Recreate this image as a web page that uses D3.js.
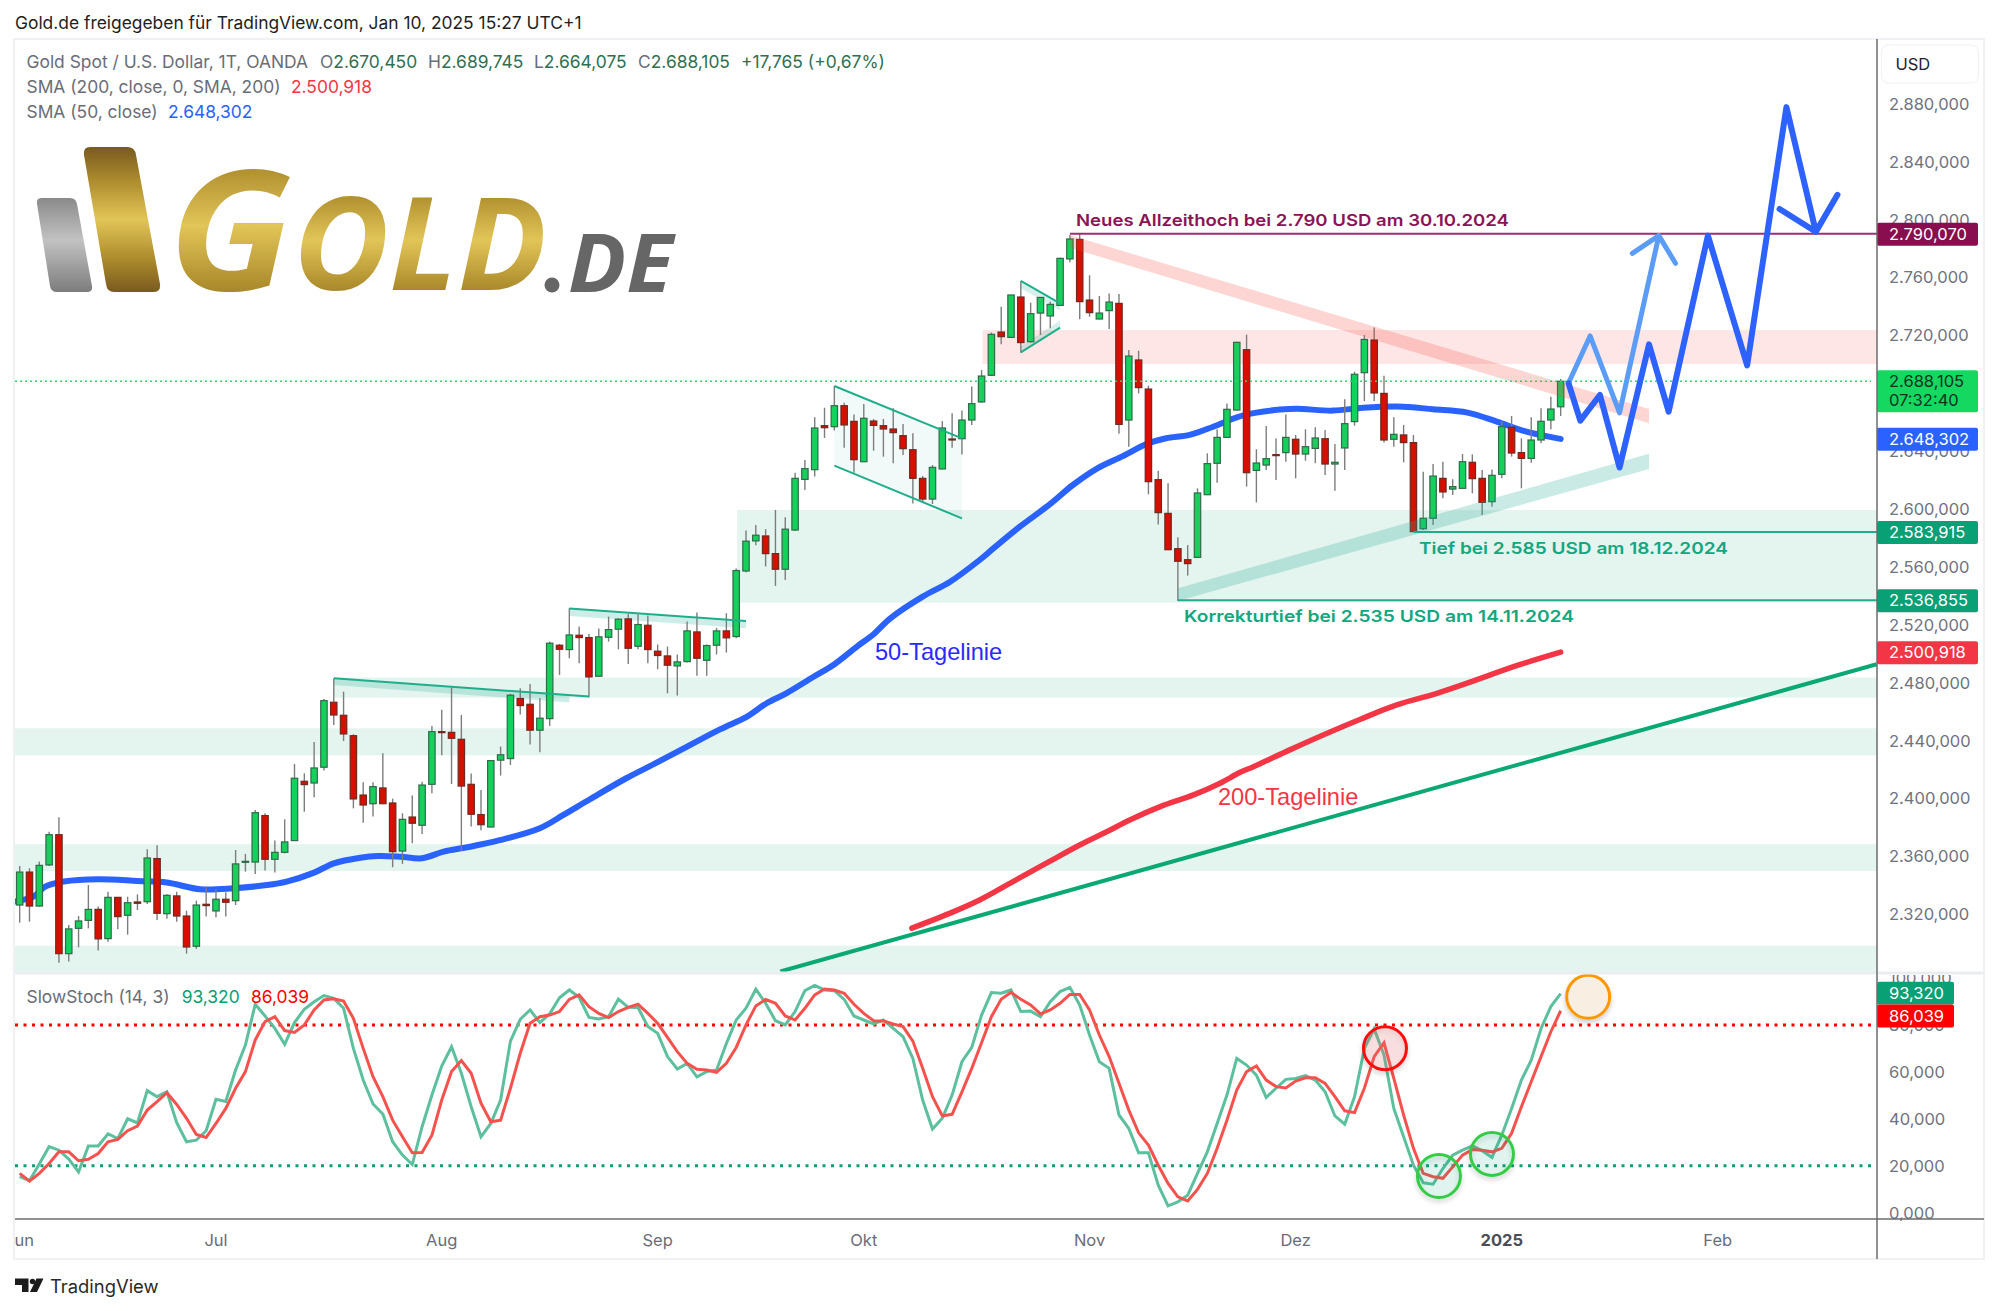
<!DOCTYPE html>
<html><head><meta charset="utf-8">
<script src="https://cdnjs.cloudflare.com/ajax/libs/d3/7.8.5/d3.min.js"></script>
<style>
html,body{margin:0;padding:0;background:#fff}
svg{display:block}
text{font-family:Inter,Roboto,"Noto Sans",sans-serif}
</style></head><body>
<svg id="c" width="1999" height="1311"></svg>
<script>
// ---------- chart data (bar index = trading day from June 2024) ----------
const openPrices=[2326.2,2349,2325.5,2353.9,2374.8,2292.6,2310.1,2315.6,2323.2,2303,
2331.5,2319.1,2328.3,2328.5,2358.3,2320.2,2332.5,2318.6,2297.7,2326.7,
2322.1,2330.2,2329.2,2355.7,2355.9,2388,2357.8,2362.6,2370.7,2411.7,
2410.5,2421.4,2466.3,2457.3,2443.2,2402.2,2396.2,2407.1,2396.7,2363.5,
2387,2381.3,2409.6,2446,2445.5,2440.7,2409.6,2388.7,2380.1,2426.3,
2427.4,2468.9,2464.9,2447,2455,2505.7,2502.7,2512.6,2511,2484.3,
2511.2,2516.8,2523.9,2505,2519.5,2501.6,2498.3,2491.4,2494.4,2514.9,
2495.3,2505.7,2515.6,2511.7,2557,2577.8,2581.2,2569,2558.2,2585.3,
2620.3,2627,2657.4,2656.7,2671.2,2660.4,2632.5,2660.6,2657.4,2655.1,
2650.5,2640.8,2621,2606.7,2627.5,2648.2,2648.4,2661.3,2673.8,2692.2,
2722.1,2718.4,2746.3,2715.4,2735.2,2733.2,2740.5,2772.6,2786.1,2744.2,
2731.1,2736.9,2741.9,2661.3,2702.8,2682.7,2620.1,2596.8,2572.4,2564.8,
2566.4,2609.7,2631.4,2649.3,2668.2,2709.9,2626.5,2630.2,2637.4,2638.8,
2648,2637.8,2641.7,2648.4,2630.9,2642,2660.2,2694,2716.6,2679.7,
2648,2651,2645.7,2586.2,2593.4,2621,2613.6,2614.1,2632.1,2621,
2604.9,2623.8,2656.3,2638.8,2634.8,2647.5,2661.3,2670.45];
const highPrices=[2353.2,2351.6,2356.2,2376.9,2386.8,2312.4,2318.6,2340,2325.1,2335.4,
2331.5,2332,2333.6,2364.7,2367.5,2333.6,2335.4,2322.3,2329.2,2338.9,
2337.1,2335,2364.2,2361.5,2391.9,2389.6,2370.7,2385.4,2423.7,2417.2,
2438.9,2468.6,2482.8,2473.6,2444.2,2411,2411,2431,2399.7,2389.6,
2401.8,2411.4,2449.9,2461.2,2476.6,2457.5,2417,2405.7,2426.4,2435.7,
2472.1,2476,2479,2469.3,2508.2,2506.6,2531.3,2518.6,2513.5,2517.2,
2525.5,2524.4,2527.4,2527.1,2526.2,2506.2,2504.8,2499.3,2522.1,2528.3,
2506.2,2517.7,2527.8,2558.7,2584.9,2588.8,2585.9,2599.2,2594.1,2624.9,
2633.7,2663.2,2669.8,2684.8,2673.3,2665.2,2672.4,2662,2662,2669.4,
2658.6,2652.1,2622.6,2630.2,2660.6,2665.9,2667.8,2684.4,2695.9,2721.7,
2739.6,2747.7,2757.4,2742.4,2746,2743.1,2773.5,2789.1,2790,2761.3,
2747,2748.8,2748.4,2709.7,2709.2,2685,2626.3,2617.6,2580.3,2574.9,
2614.1,2638.3,2654.9,2672.8,2715.4,2720.3,2641.1,2657.2,2648.6,2665.2,
2651,2654.9,2656.3,2654.4,2644.7,2675.6,2694.7,2720,2725.3,2691.9,
2663.2,2657.9,2651,2625.6,2630.9,2632.5,2620.3,2637.8,2637.6,2626.8,
2627.2,2660.2,2664.1,2648.6,2663.2,2669.4,2677.4,2689.7];
const lowPrices=[2314,2314.7,2325.1,2353.2,2286.4,2287.1,2297,2310.1,2294.7,2300.9,
2309.4,2305.7,2322.8,2326.9,2315.9,2316.8,2314.7,2292.6,2295.9,2318.2,
2317.7,2318.2,2326.2,2349.3,2347.7,2350,2348.6,2361.9,2370.5,2390.7,
2400.6,2419.1,2450.6,2439.5,2393,2383.1,2387.3,2396,2352.3,2354.6,
2368.8,2375.3,2403.4,2429.6,2409.8,2363.5,2380.4,2377.8,2379.9,2415.7,
2423,2457.8,2437.1,2431.8,2450,2485.2,2496.7,2493.3,2469.8,2484,
2508.2,2502.9,2492.8,2502.9,2493.3,2489.1,2472.5,2470.9,2493.7,2484.7,
2484.7,2499.3,2500.6,2510.5,2556.1,2574.8,2560.1,2546.7,2550.8,2584.6,
2613,2622.2,2648.9,2654,2642.2,2624.9,2632.3,2640.1,2636,2631.4,
2637.1,2603.7,2604.9,2603.3,2627.2,2642.2,2637.4,2657.9,2673.3,2691.7,
2713.6,2718.2,2707.8,2714.8,2720,2724.7,2740.1,2770.3,2730.9,2732.7,
2730.9,2724.2,2651.9,2642.9,2679.7,2610,2589.2,2571.5,2536.3,2553.8,
2566.2,2609.5,2618,2649.1,2667.8,2615.3,2604.4,2626.8,2619.9,2632.5,
2621,2633.2,2631.4,2623.3,2612.5,2626.8,2657.4,2674.4,2674.4,2645.7,
2642.9,2632.1,2584.2,2585.3,2588.8,2607.2,2609.5,2613.9,2610.7,2595.7,
2601.4,2621,2636,2614.1,2631.8,2645.2,2654.9,2664.1];
const closePrices=[2349,2325.5,2353.6,2374.8,2292.6,2309.7,2315.2,2323.2,2302.8,2331.5,
2318.2,2327.8,2327.4,2358.7,2320.5,2332.9,2318.6,2297.2,2326.2,2325.8,
2330.2,2328.1,2354.6,2356.4,2390,2357.8,2362.6,2369.8,2413.8,2409.4,
2420.9,2467.4,2457.5,2444.4,2399.5,2395.3,2408,2396.2,2363.1,2385.4,
2382.7,2409.1,2446,2445.3,2441.4,2408.4,2388.9,2381.7,2426,2430,
2471.2,2464,2447,2455.3,2507.1,2502.9,2512.8,2511,2483.8,2511.5,
2516.5,2523.7,2503.6,2520,2502.7,2498.6,2491.9,2494.2,2515.6,2496.7,
2505.5,2515.6,2510.8,2557.3,2577.6,2581.7,2569,2558.2,2585.9,2621,
2627.7,2655.8,2656,2671.2,2657.9,2633.9,2662.5,2657.6,2655.1,2652.6,
2641.5,2621,2606.7,2628.6,2655.8,2647.5,2661.3,2672.6,2691.7,2720.5,
2718.9,2747.7,2714.8,2734.8,2746,2741.2,2773,2786.4,2743.1,2735.5,
2735.2,2742.8,2658.3,2705.5,2683.7,2618.7,2597.3,2571.7,2563.7,2562.1,
2610.9,2631.2,2649.3,2668.7,2715,2624.9,2631.6,2634.6,2636.7,2649.3,
2637.8,2642.9,2648.9,2630.9,2632.1,2658.8,2692.9,2717,2680,2647.5,
2651.4,2645.7,2584.2,2593.4,2622.6,2611.6,2615.3,2632.5,2620.8,2604.4,
2623.1,2656.7,2638.5,2634.8,2647.5,2660.4,2668.9,2688.105];

const sma50Bars=[-1,1.4,2.6,4.5,8,12,15,18.4,21.8,25.2,27.2,30,32,34.7,36.5,38.8,41,43.2,45.6,48.9,53,55.4,58.1,61.8,64.6,68,71.4,74.1,76.1,78.1,80.8,82.9,85.3,87,88.7,92,94.8,97.8,99.2,101.9,105,107.3,109.8,112.4,114.8,116.8,119.2,121.6,124,126,128.4,130.1,133.8,136.9,141,144,147.5,150.5,153.5,157];
const sma50Vals=[2328.1,2332,2338.9,2342.4,2344,2342.8,2341.7,2337.1,2337.8,2340,2342.4,2348.6,2355,2358.9,2360.1,2359.6,2358.5,2363.1,2366.1,2371,2379.3,2388.5,2399.3,2413.8,2423.5,2435.7,2447.7,2456.4,2465.6,2472.5,2483.6,2492.1,2504.8,2513.3,2524.3,2539.3,2549.6,2564.6,2572.6,2587.6,2603.3,2616.4,2627.9,2636.4,2644.7,2648.7,2651,2656.7,2663.2,2666.4,2668.5,2669.1,2667.8,2669.8,2670.5,2668.7,2666.4,2660.2,2653.3,2648.3];
const sma200Bars=[90.9,94.8,97.8,101.2,104.6,108,110.8,113.1,116.2,119.6,122.3,124.3,125.7,129.4,132.8,136.6,140.3,144.4,148.4,152.2,157];
const sma200Vals=[2310.2,2320.6,2329.7,2342.4,2355.1,2367.7,2377,2385,2394.2,2402.3,2410.4,2417.7,2421.8,2433.4,2443.7,2454.6,2464.5,2472.5,2481.7,2490.9,2500.9];

const stochK=[15.3,13.6,20.7,28.1,26.6,22.8,17.3,28.4,28.4,33.6,31.5,40,38.2,52,49.4,51.5,38.3,30.2,30.9,34.9,
48.3,47.4,60.8,71.4,88.8,83.8,78.5,71.7,81,86.7,89.9,92.5,91.3,87.1,70,56.5,46.3,42,30.2,24.5,
20.5,36.6,50.1,62.5,70.7,59.4,45.1,32.3,38,48,73.1,82.4,86.4,81,84.7,91.6,94.9,91.8,83.2,82.5,
83.5,91,87.5,87.4,79.3,76.4,66.5,61.2,63.6,57.9,60.1,60.8,72.1,82.1,87.1,95.2,89.2,81.8,80,85.7,
94.6,96.8,94.9,94.6,90.9,83.8,82.1,80.4,82.1,78.5,75,65.7,48,35.6,40.2,50.1,64.3,70.4,84.2,93.8,
93.5,94.9,85.7,85.9,83.5,89.9,94.2,96,88.5,75.7,64.3,61.5,41.6,35.9,25.5,25.5,11.7,2.9,4.6,7.4,
16.7,25.9,38,50.1,65.7,62.9,58.6,49.1,53,56.8,57.2,58.4,56.5,51.5,41.2,37.7,49.4,70,78.3,67.2,
44.4,32.3,20.2,12.7,12.1,18.8,24.5,26.6,28.4,26.4,23.5,33,44.4,56.5,65,78.5,87.8,93.32];
const stochD=[16.7,13.4,16.7,20.9,25.9,25.9,22.1,22.7,25.2,30.2,31.2,34.9,36.9,43.7,47.3,51.1,46.1,40.2,33.3,32,
38,44.4,53,60.1,73.6,81.4,83.5,77.6,76.8,80,86.4,90.6,91.1,90.2,82.8,70,57.9,49.4,39.4,32.3,
25.5,25.6,33,48,60.1,64.8,59.4,46.6,38.7,39.4,53,67.9,80.7,83.5,84.2,85.7,90.9,92.8,87.8,84.9,
83.1,85.7,87.5,88.8,84.9,80.7,74.7,68.6,63.6,61.1,60.8,59.8,63.6,70.4,80,88.1,90.9,89.2,83.8,82.1,
87.1,92.8,95.3,94.9,93.5,88.8,84.9,81.8,81.7,80.4,79.3,73.1,61.5,49.4,41.2,41.9,51.5,61.5,72.4,83.5,
90.9,93.9,90.9,88.5,84.7,86.4,89.2,93,93,86.4,75.7,66.5,55.1,43.7,34,28.8,20.2,12.4,6.7,5,
9.9,16.7,27.4,39.4,52.2,60.1,62.5,56.5,53.7,53.1,56.1,57.5,57.5,55.1,49.4,43.4,42.6,53,66.5,72.4,
57.2,41.6,27.4,16.7,15.3,14.6,19.5,24.5,26.9,26.6,25.9,27.4,33.8,45.1,55.8,66.5,77.1,86.039];

const priceTicks=[2880,2840,2800,2760,2720,2680,2640,2600,2560,2520,2480,2440,2400,2360,2320];
const stochTicks=[100,80,60,40,20,0];
const monthLabels=["Jun","Jul","Aug","Sep","Okt","Nov","Dez","2025","Feb"];
const monthBars=[0,20,43,65,86,109,130,151,173];

// zones [bar start, price top, price bottom]; null start = left edge
const greenZones=[[null,2448.3,2429.6],[null,2368.2,2349.7],[null,2298.1,2279.7],[32,2483.4,2469.5],[73.1,2599.1,2535.1]];
const redZones=[[98.1,2723.5,2700]];

const priceTags=[[2790.07,"#880e4f","#fff"],[2648.302,"#2962ff","#fff"],[2583.915,"#08a074","#fff"],[2536.855,"#08a074","#fff"],[2500.918,"#f23645","#fff"]];

const lightPathBars=[157.8,160,163,167], lightPathVals=[2686.9,2719.4,2666.3,2788.7];
const lightHeadBars=[164.3,167,168.7], lightHeadVals=[2776.4,2788.7,2769.6];
const darkPathBars=[157.8,159,161,163,166,168,172,176,180,183,185.2], darkPathVals=[2686.7,2660.9,2678.6,2628.5,2713.6,2667.1,2788.7,2699.1,2877.5,2791.4,2816.9];
const darkHeadBars=[179.3,183], darkHeadVals=[2807.1,2791.4];

const rings=[[139.1,70.1,"red"],[144.6,15.6,"green"],[150,25,"green"],[159.8,92,"orange"]];

// ---------- helpers ----------
const L=15,AX=1877,R=1984,TOP=39,SEP=973,TB=1219,BOT=1259;
const UI=17.4, AXF=16.5;
const x=d3.scaleLinear().domain([0,157]).range([19.67,1560.67]);
const y=d3.scaleLinear().domain([2320,2880]).range([914,103.5]);
const ys=d3.scaleLinear().domain([0,100]).range([1212.6,978]);
const de=d3.formatLocale({decimal:",",thousands:".",grouping:[3],currency:["","€"]});
const fmt=de.format(",.3f");
const svg=d3.select("#c");
const defs=svg.append("defs");
defs.append("clipPath").attr("id","pp").append("rect").attr("x",L).attr("y",TOP).attr("width",AX-L).attr("height",SEP-TOP);
defs.append("clipPath").attr("id","sp").append("rect").attr("x",L).attr("y",SEP+1).attr("width",AX-L).attr("height",TB-SEP-1);
defs.append("clipPath").attr("id","sa").append("rect").attr("x",AX).attr("y",SEP+2).attr("width",R-AX).attr("height",TB-SEP);
defs.append("clipPath").attr("id","ta").append("rect").attr("x",L).attr("y",TB).attr("width",AX-L).attr("height",BOT-TB);
const gold=defs.append("linearGradient").attr("id","gold").attr("x1",0).attr("y1",0).attr("x2",0).attr("y2",1);
[[0,"#7a5a1e"],[.25,"#b0902f"],[.5,"#e2c558"],[.75,"#b0902f"],[1,"#7a5a1e"]].forEach(s=>gold.append("stop").attr("offset",s[0]).attr("stop-color",s[1]));
const silver=defs.append("linearGradient").attr("id","silver").attr("x1",0).attr("y1",0).attr("x2",0).attr("y2",1);
[[0,"#8a8a8a"],[.45,"#c2c2c2"],[1,"#7c7c7c"]].forEach(s=>silver.append("stop").attr("offset",s[0]).attr("stop-color",s[1]));
const sh=defs.append("filter").attr("id","shadow").attr("x","-30%").attr("y","-30%").attr("width","160%").attr("height","170%");
sh.append("feDropShadow").attr("dx",0).attr("dy",3).attr("stdDeviation",2.5).attr("flood-color","#000").attr("flood-opacity",.2);

const bars=closePrices.map((c,i)=>({i,o:openPrices[i],h:highPrices[i],l:lowPrices[i],c}));
const zip=(a,b)=>a.map((v,i)=>[v,b[i]]);
const line=d3.line().x(d=>x(d[0])).y(d=>y(d[1]));
const smooth=d3.line().x(d=>x(d[0])).y(d=>y(d[1])).curve(d3.curveCatmullRom.alpha(.5));
const lineS=d3.line().x(d=>x(d[0])).y(d=>ys(d[1]));

// ---------- header ----------
svg.append("text").attr("x",15).attr("y",29).attr("font-size",UI).attr("fill","#1f1f1f").text("Gold.de freigegeben für TradingView.com, Jan 10, 2025 15:27 UTC+1");
// frame
svg.append("rect").attr("x",L-1).attr("y",TOP).attr("width",R-L+1).attr("height",BOT-TOP).attr("fill","#fff").attr("stroke","#f0f1f5").attr("stroke-width",2);

// ---------- price pane ----------
const pp=svg.append("g").attr("clip-path","url(#pp)");
const zoneRect=(g,z,col)=>g.append("rect").attr("x",z[0]==null?L:x(z[0])).attr("y",y(z[1])).attr("width",AX-(z[0]==null?L:x(z[0]))).attr("height",y(z[2])-y(z[1])).attr("fill",col);
greenZones.forEach(z=>zoneRect(pp,z,"#e4f4ee"));
redZones.forEach(z=>zoneRect(pp,z,"#fee6e6"));

const poly=(g,pts,fill)=>g.append("path").attr("d",line(pts)+"Z").attr("fill",fill);
const seg=(g,pts,col,w)=>g.append("path").attr("d",line(pts)).attr("fill","none").attr("stroke",col).attr("stroke-width",w);
const tg="#1fae8a";
// channel & pattern fills under the candles
poly(pp,[[83,2684.8],[96,2648.6],[96,2593.4],[83,2629.8]],"rgba(34,171,148,.06)");
poly(pp,[[102,2757.4],[106,2741.9],[106,2736.9],[102,2752.4]],"rgba(34,171,148,.18)");
poly(pp,[[102,2708.1],[106,2725.1],[106,2730],[102,2712.5]],"rgba(34,171,148,.18)");
poly(pp,[[32,2482.9],[56,2471.4],[56,2466.1],[32,2478.3]],"rgba(34,171,148,.22)");
poly(pp,[[56,2531],[74,2522.5],[74,2517.4],[56,2525.9]],"rgba(34,171,148,.22)");

// SMA lines & long trend
pp.append("path").attr("d",smooth(zip(sma50Bars,sma50Vals))).attr("fill","none").attr("stroke","#2962ff").attr("stroke-width",6).attr("stroke-linecap","round");
seg(pp,[[77.5,2280.3],[189.2,2492.6]],"#0aa873",4);
pp.append("path").attr("d",smooth(zip(sma200Bars,sma200Vals))).attr("fill","none").attr("stroke","#f23645").attr("stroke-width",5.5).attr("stroke-linecap","round");

// candles
const bw=6.4;
const cg=pp.append("g").selectAll("g").data(bars).join("g");
cg.append("line").attr("x1",d=>x(d.i)).attr("x2",d=>x(d.i)).attr("y1",d=>y(d.h)).attr("y2",d=>y(d.l)).attr("stroke","#7d7d7d").attr("stroke-width",1.4);
cg.append("rect").attr("x",d=>x(d.i)-bw/2).attr("width",bw).attr("y",d=>y(Math.max(d.o,d.c))).attr("height",d=>Math.max(1,Math.abs(y(d.o)-y(d.c))))
  .attr("fill",d=>d.c>=d.o?"#15d15c":"#d80f00").attr("stroke",d=>d.c>=d.o?"#2f6a4a":"#6e2a20").attr("stroke-width",1.2);

// current price dotted line
pp.append("line").attr("x1",L).attr("x2",1871).attr("y1",y(2688.105)).attr("y2",y(2688.105)).attr("stroke","#27dc6e").attr("stroke-width",1.6).attr("stroke-dasharray","2 3");

// pattern lines
seg(pp,[[83,2684.8],[96,2648.6]],tg,2); seg(pp,[[83,2629.8],[96,2593.4]],tg,2);
seg(pp,[[102,2757.4],[106,2741.9]],tg,2); seg(pp,[[102,2708.1],[106,2725.1]],tg,2);
seg(pp,[[32,2482.9],[58,2470.2]],tg,2); seg(pp,[[56,2531],[74,2522.5]],tg,2);

// horizontal levels
seg(pp,[[107,2790.07],[190,2790.07]],"#a02d70",2);
seg(pp,[[142,2583.915],[190,2583.915]],tg,2);
seg(pp,[[118,2536.855],[190,2536.855]],tg,2);

// falling / rising bands
poly(pp,[[107,2789],[166,2669],[166,2659],[107,2780.4]],"rgba(244,67,54,.22)");
poly(pp,[[118,2545],[166,2638],[166,2627.4],[118,2536.3]],"rgba(34,171,148,.24)");

// projected paths
const proj=(b,v,c,w)=>pp.append("path").attr("d",line(zip(b,v))).attr("fill","none").attr("stroke",c).attr("stroke-width",w).attr("stroke-linecap","round").attr("stroke-linejoin","round");
proj(lightPathBars,lightPathVals,"#5b9cf6",5); proj(lightHeadBars,lightHeadVals,"#5b9cf6",5);
proj(darkPathBars,darkPathVals,"#2e62ff",6); proj(darkHeadBars,darkHeadVals,"#2e62ff",6);

// annotation text
const note=(xx,yy,t,col,size,w,tl)=>{const n=svg.append("text").attr("x",xx).attr("y",yy).attr("font-size",size).attr("font-weight",w).attr("fill",col).text(t);if(tl)n.attr("textLength",tl).attr("lengthAdjust","spacingAndGlyphs");return n;};
note(1076,226,"Neues Allzeithoch bei 2.790 USD am 30.10.2024","#8a1457",16.5,600,433);
note(1419,554,"Tief bei 2.585 USD am 18.12.2024","#12a77f",16.5,600,309);
note(1184,622,"Korrekturtief bei 2.535 USD am 14.11.2024","#12a77f",16.5,600,390);
note(875,660,"50-Tagelinie","#2a2aff",23.6,400).style("font-family","'Liberation Sans',Arial,sans-serif");
note(1218,805,"200-Tagelinie","#f23645",23.6,400).style("font-family","'Liberation Sans',Arial,sans-serif");

// ---------- legend ----------
const lg=svg.append("g").attr("font-size",UI);
const txt=(xx,yy,t,c)=>lg.append("text").attr("x",xx).attr("y",yy).attr("fill",c).text(t);
const gr="#6a6d78",dg="#2f6f52";
txt(26.5,68,"Gold Spot / U.S. Dollar, 1T, OANDA",gr);
[[320,"O","2.670,450"],[428,"H","2.689,745"],[534,"L","2.664,075"],[638,"C","2.688,105"]].forEach(a=>{
  const t=lg.append("text").attr("x",a[0]).attr("y",68).attr("fill",dg);
  t.append("tspan").attr("fill",gr).text(a[1]); t.append("tspan").text(a[2]);});
txt(741,68,"+17,765 (+0,67%)",dg);
txt(26.5,93,"SMA (200, close, 0, SMA, 200)",gr); txt(291,93,"2.500,918","#f23645");
txt(26.5,118,"SMA (50, close)",gr); txt(168,118,"2.648,302","#2962ff");

// ---------- logo ----------
const logo=svg.append("g");
logo.append("path").attr("d","M42 198 L70 198 Q76 198 77 204 L92 286 Q93 292 87 292 L57 292 Q51 292 50 286 L37 204 Q36 198 42 198Z").attr("fill","url(#silver)");
logo.append("path").attr("d","M90 147 L127 147 Q135 147 136 155 L160 284 Q161 292 153 292 L114 292 Q107 292 106 284 L84 155 Q83 147 90 147Z").attr("fill","url(#gold)");
const lt=(xx,yy,s,t,f,tl)=>logo.append("text").attr("x",xx).attr("y",yy).attr("font-size",s).attr("font-style","italic").attr("font-weight",700).attr("fill",f).attr("textLength",tl).attr("lengthAdjust","spacingAndGlyphs").text(t).style("font-family","'Open Sans',sans-serif");
lt(168,290,167,"G","url(#gold)",124);
lt(293,290,129,"OLD","url(#gold)",254);
logo.append("circle").attr("cx",552).attr("cy",285).attr("r",7.5).attr("fill","#666");
lt(568,292,80,"DE","#666",105);

// ---------- price axis ----------
const pa=d3.axisRight(y).tickValues(priceTicks).tickSize(0).tickPadding(0).tickFormat(fmt);
const pax=svg.append("g").attr("transform","translate(1889,0)").call(pa);
pax.select(".domain").remove();
pax.selectAll("text").attr("font-size",AXF).attr("fill","#6f7280").style("font-family","Inter,Roboto,sans-serif").attr("x",0).attr("dy","0.35em");

const tag=(g,cy,h,w,col)=>g.append("rect").attr("x",AX).attr("y",cy-h/2).attr("width",w).attr("height",h).attr("rx",2).attr("fill",col);
const tagT=(g,cy,t,col)=>g.append("text").attr("x",1889).attr("y",cy).attr("dy","0.35em").attr("font-size",AXF).attr("fill",col).text(t);
const tg2=svg.append("g");
priceTags.forEach(d=>{tag(tg2,y(d[0])+.5,23,101,d[1]);tagT(tg2,y(d[0])+.5,fmt(d[0]),d[2]);});
tg2.append("rect").attr("x",AX).attr("y",y(2688.105)-11).attr("width",101).attr("height",42).attr("rx",2).attr("fill","#14d860");
tagT(tg2,y(2688.105),fmt(2688.105),"#10331f");
tagT(tg2,y(2688.105)+19,"07:32:40","#10331f");

svg.append("rect").attr("x",1881.5).attr("y",45).attr("width",97).attr("height",38).attr("rx",7).attr("fill","#fff").attr("stroke","#f0f1f5");
svg.append("text").attr("x",1895.5).attr("y",69.5).attr("font-size",16.5).attr("fill","#1f2430").text("USD");

// ---------- stochastic pane ----------
const sp=svg.append("g").attr("clip-path","url(#sp)");
[[80,"#ff0000"],[20,"#08a074"]].forEach(d=>sp.append("line").attr("x1",L).attr("x2",1871).attr("y1",ys(d[0])).attr("y2",ys(d[0])).attr("stroke",d[1]).attr("stroke-width",3).attr("stroke-dasharray","3 5.5"));
const stochPts=a=>a.map((v,i)=>[i,v]);
sp.append("path").attr("d",lineS(stochPts(stochK))).attr("fill","none").attr("stroke","#5cbf9e").attr("stroke-width",3);
sp.append("path").attr("d",lineS(stochPts(stochD))).attr("fill","none").attr("stroke","#f5524e").attr("stroke-width",3);
const ringCol={red:["#ff1010","rgba(240,120,120,.2)"],green:["#33cc44","rgba(34,171,120,.1)"],orange:["#ff9800","#f8efe2"]};
sp.selectAll("circle").data(rings).join("circle").attr("cx",d=>x(d[0])).attr("cy",d=>ys(d[1])).attr("r",21.5)
  .attr("fill",d=>ringCol[d[2]][1]).attr("stroke",d=>ringCol[d[2]][0]).attr("stroke-width",3).attr("filter","url(#shadow)");

const sa=d3.axisRight(ys).tickValues(stochTicks).tickSize(0).tickPadding(0).tickFormat(fmt);
const sax=svg.append("g").attr("clip-path","url(#sa)").append("g").attr("transform","translate(1889,0)").call(sa);
sax.select(".domain").remove();
sax.selectAll("text").attr("font-size",AXF).attr("fill","#6f7280").style("font-family","Inter,Roboto,sans-serif").attr("x",0).attr("dy","0.35em");
const st=svg.append("g");
st.append("rect").attr("x",AX).attr("y",981.7).attr("width",77).attr("height",22.8).attr("rx",2).attr("fill","#08a074");
st.append("rect").attr("x",AX).attr("y",1004.4).attr("width",77).attr("height",23.2).attr("rx",2).attr("fill","#ff0000");
tagT(st,993,fmt(93.32),"#fff"); tagT(st,1016,fmt(86.039),"#fff");

svg.append("text").attr("x",26.5).attr("y",1002.5).attr("font-size",UI).attr("fill",gr).text("SlowStoch (14, 3)");
svg.append("text").attr("x",181.7).attr("y",1002.5).attr("font-size",UI).attr("fill","#08a074").text(de.format(".3f")(93.32));
svg.append("text").attr("x",251).attr("y",1002.5).attr("font-size",UI).attr("fill","#ff0000").text(de.format(".3f")(86.039));

// ---------- rules ----------
svg.append("rect").attr("x",L).attr("y",SEP-1.5).attr("width",R-L).attr("height",3).attr("fill","#e9edf0");
svg.append("line").attr("x1",L).attr("x2",R).attr("y1",TB).attr("y2",TB).attr("stroke","#6b6b6b").attr("stroke-width",1.5);
svg.append("line").attr("x1",AX).attr("x2",AX).attr("y1",TOP).attr("y2",BOT).attr("stroke","#6b6b6b").attr("stroke-width",1.5);

// ---------- time axis ----------
const ta=svg.append("g").attr("clip-path","url(#ta)");
ta.selectAll("text").data(monthLabels).join("text").attr("x",(d,i)=>x(monthBars[i])).attr("y",1246).attr("text-anchor","middle").attr("font-size",AXF)
  .attr("fill",d=>d==="2025"?"#4a4d57":"#6a6d78").attr("font-weight",d=>d==="2025"?700:400).text(d=>d);

// ---------- footer ----------
const tv=svg.append("g").attr("fill","#1c1c1c");
tv.append("path").attr("d","M15 1278.5 H28.5 V1292 H22 V1285 H15 Z");
tv.append("circle").attr("cx",32.5).attr("cy",1281.5).attr("r",2.7);
tv.append("path").attr("d","M36.5 1278.5 H43.5 L37 1292 H30 Z");
svg.append("text").attr("x",50).attr("y",1293).attr("font-size",18.4).attr("fill","#2a2a2a").text("TradingView");
</script>
</body></html>
